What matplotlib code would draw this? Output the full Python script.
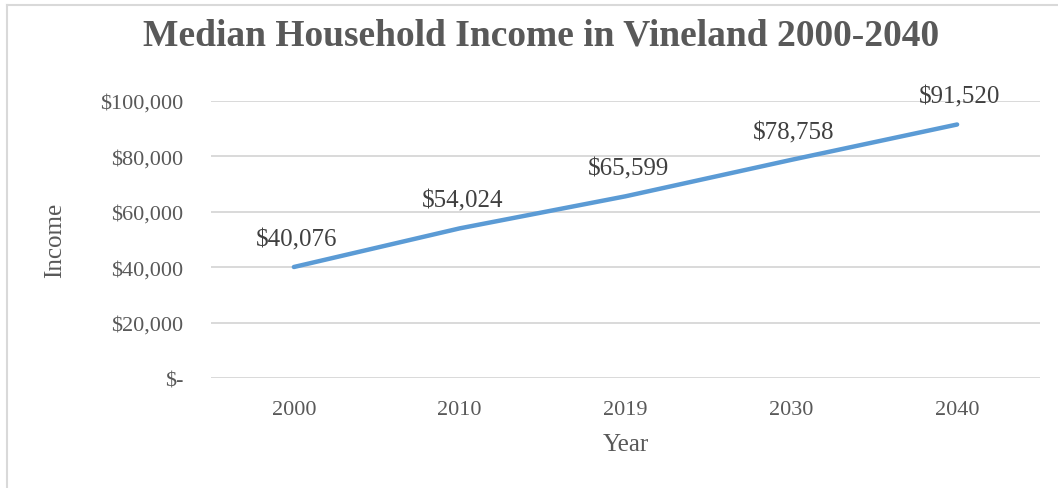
import matplotlib
matplotlib.use('Agg')
import matplotlib.pyplot as plt
from matplotlib.ticker import FuncFormatter

years = ['2000', '2010', '2019', '2030', '2040']
income = [40076, 54024, 65599, 78758, 91520]
yticks = [0, 20000, 40000, 60000, 80000, 100000]

grey = '#595959'
plt.rcParams['font.family'] = ['Liberation Serif', 'DejaVu Serif']

fig = plt.figure(figsize=(10.58, 4.89), dpi=100)
ax = fig.add_axes([0.1994, 0.2249, 0.7836, 0.5665])

x = list(range(len(years)))
ax.plot(x, income, color='#5B9BD5', linewidth=3.2, solid_capstyle='round')

for xi, v in zip(x, income):
    ax.annotate('${:,}'.format(v), (xi, v), xytext=(2, 12), textcoords='offset points',
                ha='center', va='bottom', fontsize=18, color='#404040')

ax.set_xlim(-0.5, len(years) - 0.5)
ax.set_ylim(0, 100000)
ax.set_xticks(x)
ax.set_xticklabels(years)
ax.set_yticks(yticks)
ax.yaxis.set_major_formatter(FuncFormatter(lambda v, p: '$-' if v == 0 else '${:,.0f}'.format(v)))
ax.grid(axis='y', color='#d9d9d9', linewidth=1.4)
ax.set_axisbelow(True)
for s in ax.spines.values():
    s.set_visible(False)
ax.tick_params(length=0, labelsize=16, colors=grey)
ax.tick_params(axis='x', pad=16)
ax.tick_params(axis='y', pad=20)
ax.set_xlabel('Year', fontsize=18, color=grey, labelpad=10)
ax.set_ylabel('Income', fontsize=18, color=grey)
ax.yaxis.set_label_coords(-0.175, 0.5)

fig.text(0.511, 0.926, 'Median Household Income in Vineland 2000-2040', ha='center', va='center',
         fontsize=27, fontweight='bold', color=grey)

# chart frame (left and top edges visible)
fig.add_artist(plt.Line2D([0.0066, 0.0066], [0, 0.988], color='#d9d9d9', linewidth=1.5))
fig.add_artist(plt.Line2D([0.0066, 1.0], [0.988, 0.988], color='#d9d9d9', linewidth=1.5))

fig.savefig('out.png', dpi=100)
